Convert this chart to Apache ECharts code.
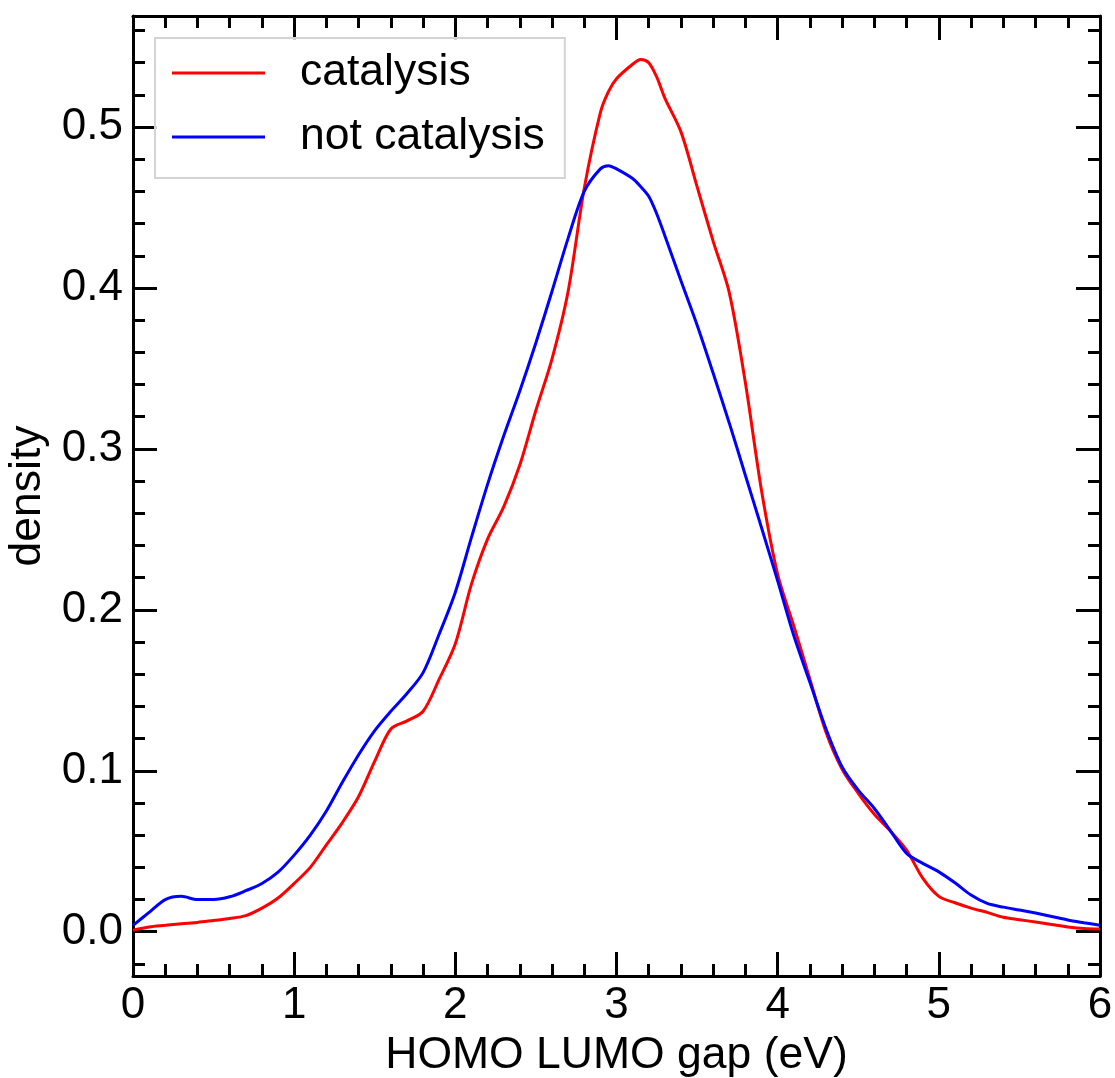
<!DOCTYPE html>
<html>
<head>
<meta charset="utf-8">
<script src="https://cdn.jsdelivr.net/npm/echarts@6/dist/echarts.min.js"></script>
<style>
  html, body { margin: 0; padding: 0; background: #fff; }
  #chart { width: 1115px; height: 1078px; }
</style>
</head>
<body>
<div id="chart"></div>
<script>
// HOMO-LUMO gap grid (eV) at which the density estimates are sampled
const gapX = [0.0, 0.1, 0.2, 0.3, 0.4, 0.5, 0.6, 0.7, 0.8, 0.9,
  1.0, 1.1, 1.2, 1.3, 1.4, 1.5, 1.6, 1.7, 1.8, 1.9,
  2.0, 2.1, 2.2, 2.3, 2.4, 2.5, 2.6, 2.7, 2.8, 2.9, 2.95,
  3.0, 3.1, 3.15, 3.2, 3.25, 3.3, 3.4, 3.5, 3.6, 3.7, 3.8, 3.9,
  4.0, 4.1, 4.2, 4.3, 4.4, 4.5, 4.6, 4.7, 4.8, 4.9,
  5.0, 5.1, 5.2, 5.3, 5.4, 5.5, 5.6, 5.7, 5.8, 5.9, 6.0];

// density of molecules used in catalysis
const catalysisDensity = [0.001, 0.003, 0.004, 0.005, 0.0058, 0.007, 0.0082, 0.010, 0.0147, 0.021,
  0.030, 0.040, 0.054, 0.068, 0.084, 0.106, 0.126, 0.131, 0.137, 0.157,
  0.179, 0.216, 0.244, 0.264, 0.290, 0.324, 0.356, 0.398, 0.462, 0.509, 0.522,
  0.530, 0.539, 0.542, 0.540, 0.531, 0.518, 0.497, 0.463, 0.429, 0.397, 0.341, 0.274,
  0.222, 0.190, 0.157, 0.124, 0.101, 0.086, 0.073, 0.0625, 0.0507, 0.0333,
  0.022, 0.018, 0.0147, 0.012, 0.009, 0.0075, 0.006, 0.0045, 0.003, 0.002, 0.0017];

// density of molecules not used in catalysis
const notCatalysisDensity = [0.004, 0.012, 0.020, 0.022, 0.020, 0.020, 0.0217, 0.0255, 0.030, 0.037,
  0.0476, 0.060, 0.075, 0.093, 0.110, 0.125, 0.137, 0.148, 0.161, 0.185,
  0.211, 0.245, 0.278, 0.308, 0.336, 0.366, 0.398, 0.431, 0.460, 0.474, 0.476,
  0.474, 0.468, 0.463, 0.457, 0.446, 0.4325, 0.4045, 0.377, 0.347, 0.316, 0.2835, 0.251,
  0.218, 0.184, 0.155, 0.126, 0.1024, 0.088, 0.0766, 0.0627, 0.0487, 0.0425,
  0.0372, 0.0304, 0.0228, 0.0176, 0.0153, 0.0135, 0.0116, 0.0095, 0.0073, 0.0056, 0.004];

// y-axis tick positions
const yMajorTicks = [0.0, 0.1, 0.2, 0.3, 0.4, 0.5];
const yMinorTicks = [-0.02, 0.0, 0.02, 0.04, 0.06, 0.08, 0.10, 0.12, 0.14, 0.16, 0.18,
  0.20, 0.22, 0.24, 0.26, 0.28, 0.30, 0.32, 0.34, 0.36, 0.38, 0.40, 0.42, 0.44,
  0.46, 0.48, 0.50, 0.52, 0.54, 0.56];

const FONT = 'Liberation Sans, Arial, sans-serif';
const FS_TICK = 44;
const FS_TEXT = 44.5;
const Y_MIN = -0.0275, Y_MAX = 0.569;

const pairs = (xs, ys) => xs.map((x, i) => [x, ys[i]]);

function yAxisDef(position, major) {
  return {
    type: 'value', position: position, min: Y_MIN, max: Y_MAX,
    splitLine: { show: false },
    axisLine: { show: major, onZero: false, lineStyle: { color: '#000', width: 3 } },
    axisTick: {
      show: true, inside: true, length: major ? 24 : 12,
      customValues: major ? yMajorTicks : yMinorTicks,
      lineStyle: { color: '#000', width: 3 }
    },
    axisLabel: {
      show: major && position === 'left',
      customValues: yMajorTicks,
      formatter: v => v.toFixed(1),
      color: '#000', fontFamily: FONT, fontSize: FS_TICK, margin: 10
    }
  };
}

function xAxisDef(position) {
  const bottom = position === 'bottom';
  return {
    type: 'value', position: position, min: 0, max: 6, interval: 1,
    splitLine: { show: false },
    axisLine: { show: true, onZero: false, lineStyle: { color: '#000', width: 3 } },
    axisTick: { show: true, inside: true, length: 24, lineStyle: { color: '#000', width: 3 } },
    minorTick: { show: true, splitNumber: 5, length: 12, lineStyle: { color: '#000', width: 3 } },
    minorSplitLine: { show: false },
    axisLabel: {
      show: bottom, color: '#000', fontFamily: FONT, fontSize: FS_TICK, margin: 8
    },
    name: bottom ? 'HOMO LUMO gap (eV)' : '',
    nameLocation: 'middle', nameGap: 56,
    nameTextStyle: { color: '#000', fontFamily: FONT, fontSize: FS_TEXT }
  };
}

const yLeft = yAxisDef('left', true);
yLeft.name = 'density';
yLeft.nameLocation = 'middle';
yLeft.nameGap = 83;
yLeft.nameTextStyle = { color: '#000', fontFamily: FONT, fontSize: FS_TEXT };

const option = {
  backgroundColor: '#fff',
  animation: false,
  grid: { left: 133, top: 16, width: 967, height: 960, containLabel: false, outerBoundsMode: 'none' },
  legend: {
    orient: 'vertical', left: 155, top: 38,
    padding: [10, 20, 16, 17], itemGap: 14,
    itemWidth: 93, itemHeight: 3, icon: 'rect',
    backgroundColor: 'rgba(255,255,255,0.8)',
    borderColor: '#d4d4d4', borderWidth: 2, borderRadius: 0,
    textStyle: { color: '#000', fontFamily: FONT, fontSize: FS_TEXT, lineHeight: 50, padding: [0, 0, 0, 30] },
    data: ['catalysis', 'not catalysis']
  },
  xAxis: [xAxisDef('bottom'), xAxisDef('top')],
  yAxis: [yLeft, yAxisDef('left', false), yAxisDef('right', true), yAxisDef('right', false)],
  series: [
    {
      name: 'catalysis', type: 'line', xAxisIndex: 0, yAxisIndex: 0,
      data: pairs(gapX, catalysisDensity), smooth: 0.3, showSymbol: false, symbol: 'none',
      lineStyle: { color: '#ff0000', width: 3 }, itemStyle: { color: '#ff0000' }
    },
    {
      name: 'not catalysis', type: 'line', xAxisIndex: 0, yAxisIndex: 0,
      data: pairs(gapX, notCatalysisDensity), smooth: 0.3, showSymbol: false, symbol: 'none',
      lineStyle: { color: '#0000ff', width: 3 }, itemStyle: { color: '#0000ff' }
    }
  ]
};

const chart = echarts.init(document.getElementById('chart'), null, { renderer: 'canvas' });
chart.setOption(option);
</script>
</body>
</html>
